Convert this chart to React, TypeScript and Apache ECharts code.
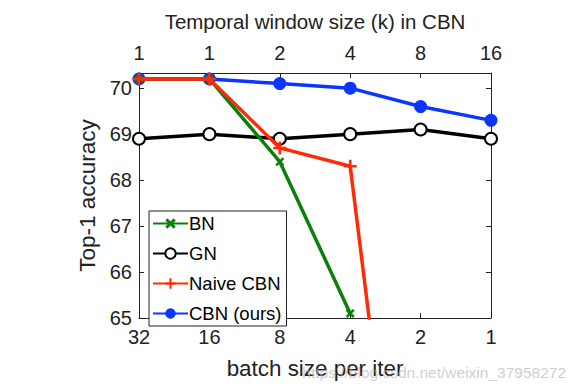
import React, { useEffect, useRef } from "react";
import * as echarts from "echarts";

const batchSizes = ["32", "16", "8", "4", "2", "1"];
const windowSizes = ["1", "1", "2", "4", "8", "16"];
const bn = [70.2, 70.2, 68.4, 65.1, null, null];
const gn = [68.9, 69.0, 68.9, 69.0, 69.1, 68.9];
const naiveCbn = [70.2, 70.2, 68.7, 68.3, 56.0, null];
const cbn = [70.2, 70.2, 70.1, 70.0, 69.6, 69.3];

const FONT = "Liberation Sans, Arial, sans-serif";
const xMark = "path://M2,0 L5,3 L8,0 L10,2 L7,5 L10,8 L8,10 L5,7 L2,10 L0,8 L3,5 L0,2 Z";
const plusMark = "path://M4,0 H6 V4 H10 V6 H6 V10 H4 V6 H0 V4 H4 Z";

export default function App() {
  const ref = useRef<HTMLDivElement>(null);
  useEffect(() => {
    const chart = echarts.init(ref.current!, null, { renderer: "svg" });
    const axisLine = { show: true, lineStyle: { color: "#222", width: 1 } };
    const tick = { show: true, inside: true, length: 5, lineStyle: { color: "#222" } };
    chart.setOption({
      animation: false,
      backgroundColor: "#fff",
      textStyle: { fontFamily: FONT },
      grid: { left: 139, right: 84, top: 73, bottom: 73, containLabel: false },
      legend: {
        orient: "vertical",
        left: 149,
        top: 211,
        padding: [3, 5, 3, 3],
        borderColor: "#222",
        borderWidth: 1,
        backgroundColor: "#fff",
        itemWidth: 35,
        itemHeight: 13,
        itemGap: 11,
        textStyle: { fontSize: 18.5, color: "#000", fontFamily: FONT, padding: [0, 0, 0, -4] },
        data: ["BN", "GN", "Naive CBN", "CBN (ours)"],
      },
      xAxis: [
        {
          type: "category",
          data: batchSizes,
          boundaryGap: false,
          position: "bottom",
          axisLine,
          axisTick: tick,
          axisLabel: { fontSize: 20, color: "#222", margin: 9 },
          name: "batch size per iter",
          nameLocation: "middle",
          nameGap: 39,
          nameTextStyle: { fontSize: 22.4, color: "#222" },
          splitLine: { show: false },
        },
        {
          type: "category",
          data: windowSizes,
          boundaryGap: false,
          position: "top",
          axisLine,
          axisTick: tick,
          axisLabel: { fontSize: 20, color: "#222", margin: 10 },
          name: "Temporal window size (k) in CBN",
          nameLocation: "middle",
          nameGap: 41,
          nameTextStyle: { fontSize: 20.5, color: "#222" },
          splitLine: { show: false },
        },
      ],
      yAxis: [
        {
          type: "value",
          min: 65,
          max: 70.33,
          interval: 1,
          position: "left",
          axisLine,
          axisTick: tick,
          axisLabel: {
            fontSize: 20,
            color: "#222",
            margin: 7,
            formatter: (v: number) => (Number.isInteger(v) ? String(v) : ""),
          },
          splitLine: { show: false },
          name: "Top-1 accuracy",
          nameLocation: "middle",
          nameGap: 32,
          nameTextStyle: { fontSize: 22.5, color: "#222" },
        },
        {
          type: "value",
          min: 65,
          max: 70.33,
          interval: 1,
          position: "right",
          axisLine,
          axisTick: tick,
          axisLabel: { show: false },
          splitLine: { show: false },
        },
      ],
      series: [
        {
          name: "GN",
          type: "line",
          data: gn,
          color: "#000",
          lineStyle: { width: 3.5 },
          symbol: "emptyCircle",
          symbolSize: 12,
          itemStyle: { borderWidth: 3, color: "#000" },
          z: 2,
        },
        {
          name: "CBN (ours)",
          type: "line",
          data: cbn,
          color: "#0a36ff",
          lineStyle: { width: 3.5 },
          symbol: "circle",
          symbolSize: 13,
          z: 3,
        },
        {
          name: "BN",
          type: "line",
          data: bn,
          color: "#0a800a",
          lineStyle: { width: 3.5 },
          symbol: xMark,
          symbolSize: 9,
          connectNulls: false,
          z: 4,
        },
        {
          name: "Naive CBN",
          type: "line",
          data: naiveCbn,
          color: "#ff2a0a",
          lineStyle: { width: 3.5 },
          symbol: plusMark,
          symbolSize: 13,
          clip: true,
          z: 5,
        },
      ],
      graphic: [
        {
          type: "text",
          right: 9,
          top: 364,
          style: {
            text: "https://blog.csdn.net/weixin_37958272",
            fontSize: 15.5,
            fontFamily: FONT,
            fill: "rgba(185,185,185,0.7)",
          },
          z: 100,
        },
      ],
    });
    return () => chart.dispose();
  }, []);
  return <div ref={ref} style={{ width: 575, height: 391, position: "absolute", left: 0, top: 0 }} />;
}
